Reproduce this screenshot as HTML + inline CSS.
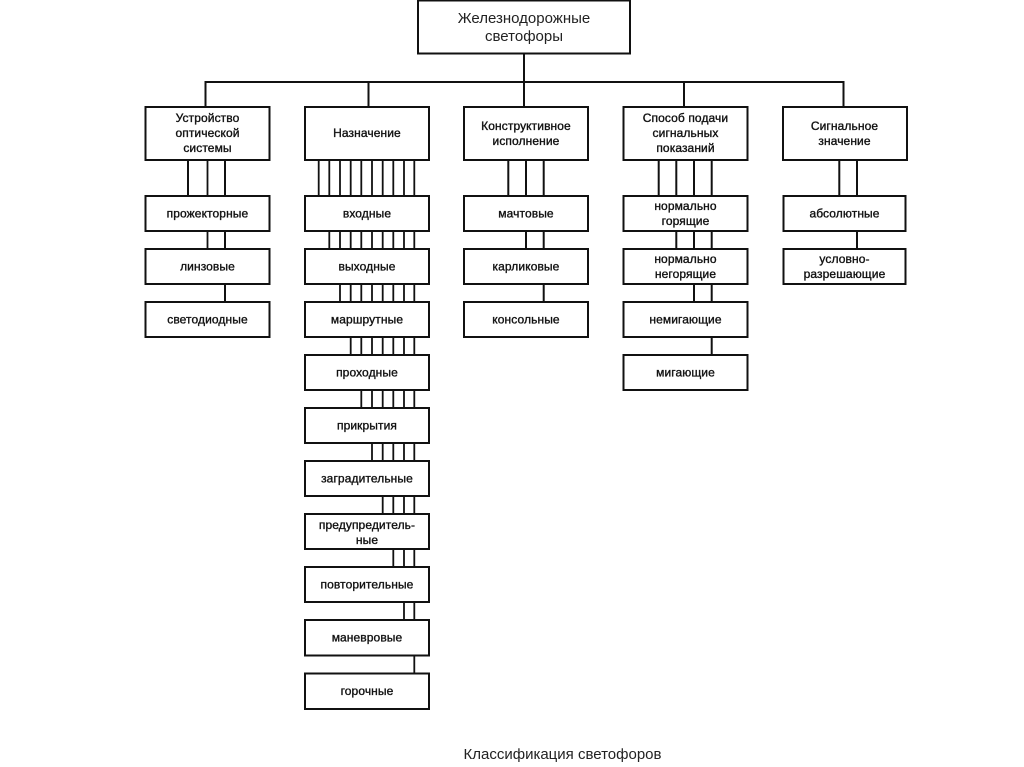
<!DOCTYPE html>
<html><head><meta charset="utf-8"><style>
html,body{margin:0;padding:0;background:#fff;width:1024px;height:767px;overflow:hidden}
svg{display:block}
text{font-family:"Liberation Sans",sans-serif;font-size:12px;letter-spacing:.1px;fill:#111;text-anchor:middle;stroke:#111;stroke-width:.35}
.t{font-size:15px;letter-spacing:0;stroke-width:0;fill:#222}
rect{fill:#fff;stroke:#111;stroke-width:2}
line{stroke:#111;stroke-width:2}
.n{stroke-width:1.8}
</style></head><body>
<svg width="1024" height="767" viewBox="0 0 1024 767" xmlns="http://www.w3.org/2000/svg">
<!-- trunk -->
<line x1="524" y1="54" x2="524" y2="107"/>
<line x1="205" y1="82" x2="844" y2="82"/>
<line x1="205.500" y1="81" x2="205.500" y2="107"/>
<line x1="368.500" y1="82" x2="368.500" y2="107"/>
<line x1="684" y1="82" x2="684" y2="107"/>
<line x1="843.500" y1="81" x2="843.500" y2="107"/>
<!-- col 1 -->
<line x1="188" y1="160" x2="188" y2="196"/><line class="n" x1="207.500" y1="160" x2="207.500" y2="249"/><line x1="225" y1="160" x2="225" y2="302"/>
<!-- col 2 -->
<g>
<line class="n" x1="318.700" y1="160" x2="318.700" y2="196"/>
<line class="n" x1="329.300" y1="160" x2="329.300" y2="249"/>
<line class="n" x1="340" y1="160" x2="340" y2="302"/>
<line class="n" x1="350.700" y1="160" x2="350.700" y2="355"/>
<line class="n" x1="361.300" y1="160" x2="361.300" y2="408"/>
<line class="n" x1="372" y1="160" x2="372" y2="461"/>
<line class="n" x1="382.700" y1="160" x2="382.700" y2="514"/>
<line class="n" x1="393.300" y1="160" x2="393.300" y2="567"/>
<line class="n" x1="404" y1="160" x2="404" y2="620"/>
<line class="n" x1="414.300" y1="160" x2="414.300" y2="673"/>
</g>
<!-- col 3 -->
<line x1="508.300" y1="160" x2="508.300" y2="196"/><line x1="526" y1="160" x2="526" y2="249"/><line x1="543.700" y1="160" x2="543.700" y2="302"/>
<!-- col 4 -->
<line x1="658.700" y1="160" x2="658.700" y2="196"/><line x1="676.300" y1="160" x2="676.300" y2="249"/><line x1="694" y1="160" x2="694" y2="302"/><line x1="711.700" y1="160" x2="711.700" y2="355"/>
<!-- col 5 -->
<line x1="839.300" y1="160" x2="839.300" y2="196"/><line x1="857" y1="160" x2="857" y2="249"/>

<!-- root -->
<rect x="418" y="0.500" width="212" height="53"/>
<text class="t" x="524" y="23">Железнодорожные</text>
<text class="t" x="524" y="41">светофоры</text>

<!-- headers -->
<rect x="145.500" y="107" width="124" height="53"/>
<text x="207.500" y="122">Устройство</text><text x="207.500" y="137">оптической</text><text x="207.500" y="152">системы</text>
<rect x="305" y="107" width="124" height="53"/>
<text x="367" y="137">Назначение</text>
<rect x="464" y="107" width="124" height="53"/>
<text x="526" y="130">Конструктивное</text><text x="526" y="145">исполнение</text>
<rect x="623.500" y="107" width="124" height="53"/>
<text x="685.500" y="122">Способ подачи</text><text x="685.500" y="137">сигнальных</text><text x="685.500" y="152">показаний</text>
<rect x="783" y="107" width="124" height="53"/>
<text x="844.500" y="130">Сигнальное</text><text x="844.500" y="145">значение</text>

<!-- col 1 boxes -->
<rect x="145.500" y="196" width="124" height="35"/><text x="207.500" y="217.500">прожекторные</text>
<rect x="145.500" y="249" width="124" height="35"/><text x="207.500" y="270.500">линзовые</text>
<rect x="145.500" y="302" width="124" height="35"/><text x="207.500" y="323.500">светодиодные</text>

<!-- col 2 boxes -->
<rect x="305" y="196" width="124" height="35"/><text x="367" y="217.500">входные</text>
<rect x="305" y="249" width="124" height="35"/><text x="367" y="270.500">выходные</text>
<rect x="305" y="302" width="124" height="35"/><text x="367" y="323.500">маршрутные</text>
<rect x="305" y="355" width="124" height="35"/><text x="367" y="376.500">проходные</text>
<rect x="305" y="408" width="124" height="35"/><text x="367" y="429.500">прикрытия</text>
<rect x="305" y="461" width="124" height="35"/><text x="367" y="482.500">заградительные</text>
<rect x="305" y="514" width="124" height="35"/><text x="367" y="529">предупредитель-</text><text x="367" y="544">ные</text>
<rect x="305" y="567" width="124" height="35"/><text x="367" y="588.500">повторительные</text>
<rect x="305" y="620" width="124" height="35.500"/><text x="367" y="641.500">маневровые</text>
<rect x="305" y="673.500" width="124" height="35.500"/><text x="367" y="695">горочные</text>

<!-- col 3 boxes -->
<rect x="464" y="196" width="124" height="35"/><text x="526" y="217.500">мачтовые</text>
<rect x="464" y="249" width="124" height="35"/><text x="526" y="270.500">карликовые</text>
<rect x="464" y="302" width="124" height="35"/><text x="526" y="323.500">консольные</text>

<!-- col 4 boxes -->
<rect x="623.500" y="196" width="124" height="35"/><text x="685.500" y="210">нормально</text><text x="685.500" y="225">горящие</text>
<rect x="623.500" y="249" width="124" height="35"/><text x="685.500" y="263">нормально</text><text x="685.500" y="278">негорящие</text>
<rect x="623.500" y="302" width="124" height="35"/><text x="685.500" y="323.500">немигающие</text>
<rect x="623.500" y="355" width="124" height="35"/><text x="685.500" y="376.500">мигающие</text>

<!-- col 5 boxes -->
<rect x="783.500" y="196" width="122" height="35"/><text x="844.500" y="217.500">абсолютные</text>
<rect x="783.500" y="249" width="122" height="35"/><text x="844.500" y="263">условно-</text><text x="844.500" y="278">разрешающие</text>

<text class="t" x="562.500" y="759">Классификация светофоров</text>
</svg>
</body></html>
